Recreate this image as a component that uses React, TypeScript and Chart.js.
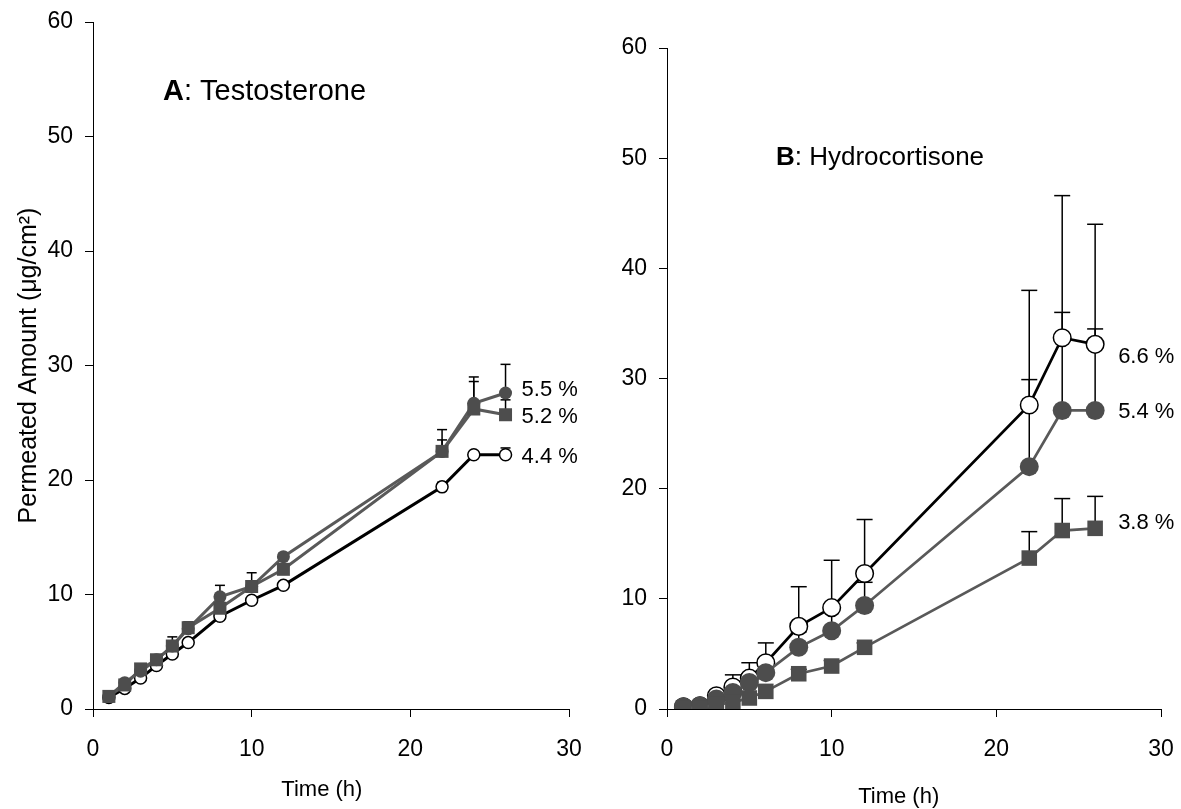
import React, { useEffect, useRef } from 'react';
import { Chart, registerables } from 'chart.js';

Chart.register(...registerables);

// ---------- data ----------
const timeH = [1, 2, 3, 4, 5, 6, 8, 10, 12, 22, 24, 26];

// Panel A: Testosterone
const aOpen = [1.0, 1.8, 2.7, 3.8, 4.8, 5.8, 8.1, 9.5, 10.8, 19.4, 22.2, 22.2];
const aOpenErr = [1.2, 2.0, 2.9, 4.0, 5.0, 6.0, 8.4, 9.7, 11.1, 19.8, 22.4, 22.8];
const aFilled = [1.1, 2.3, 3.3, 4.3, 5.5, 7.0, 9.8, 10.7, 13.3, 22.5, 26.7, 27.6];
const aFilledErr = [1.2, 2.4, 3.5, 4.5, 6.3, 7.6, 10.8, 11.0, 13.6, 23.5, 29.0, 30.1];
const aSquare = [1.1, 2.1, 3.5, 4.3, 5.5, 7.1, 8.8, 10.7, 12.2, 22.5, 26.2, 25.7];
const aSquareErr = [1.2, 2.2, 3.6, 4.4, 5.7, 7.2, 9.2, 11.9, 12.5, 24.4, 28.6, 27.0];

// Panel B: Hydrocortisone
const bOpen = [0.2, 0.3, 1.2, 2.0, 2.8, 4.2, 7.5, 9.2, 12.3, 27.6, 33.7, 33.1];
const bOpenErr = [0.4, 0.5, 1.5, 3.1, 4.2, 6.0, 11.1, 13.5, 17.2, 38.0, 46.6, 44.0];
const bFilled = [0.2, 0.3, 0.9, 1.5, 2.4, 3.3, 5.6, 7.1, 9.4, 22.0, 27.1, 27.1];
const bFilledErr = [0.3, 0.4, 1.2, 2.2, 3.2, 4.6, 7.0, 9.0, 11.5, 29.9, 36.0, 34.5];
const bSquare = [0.1, 0.1, 0.4, 0.6, 1.0, 1.6, 3.2, 3.9, 5.6, 13.7, 16.2, 16.4];
const bSquareErr = [0.2, 0.2, 0.5, 0.8, 1.3, 2.0, 3.6, 4.4, 6.0, 16.1, 19.1, 19.3];

// end-of-curve labels (text and the value level where they sit)
const aLabels = ['5.5 %', '5.2 %', '4.4 %'];
const aLabelY = [27.9, 25.5, 22.0];
const bLabels = ['6.6 %', '5.4 %', '3.8 %'];
const bLabelY = [32.0, 27.0, 16.9];

const xMin = 0;
const xMax = 30;
const xStep = 10;
const yMin = 0;
const yMax = 60;
const yStep = 10;

const yTitle = 'Permeated Amount (μg/cm²)';
const xTitle = 'Time (h)';

const FONT = '"Liberation Sans", Arial, Helvetica, sans-serif';
const DARK = '#4d4d4d';
const LINE_GRAY = '#595959';

type PanelCfg = {
  letter: string;
  name: string;
  titlePos: [number, number];
  titleSize: number;
  labels: string[];
  labelY: number[];
  labelDx: number;
  capHalf: number;
};

function makeOverlay(cfg: PanelCfg) {
  return {
    id: 'overlay' + cfg.letter,
    beforeDatasetsDraw(chart: any) {
      const { ctx } = chart;
      const xs = chart.scales.x;
      const ys = chart.scales.y;
      ctx.save();
      ctx.strokeStyle = '#000';
      ctx.lineWidth = 1.5;
      chart.data.datasets.forEach((ds: any) => {
        const vals: number[] = ds.values || [];
        const errs: number[] = ds.errTop || [];
        vals.forEach((v: number, j: number) => {
          const e = errs[j];
          if (e === undefined || e <= v) return;
          const x = xs.getPixelForValue(timeH[j]);
          const y0 = ys.getPixelForValue(v);
          const y1 = ys.getPixelForValue(e);
          ctx.beginPath();
          ctx.moveTo(x, y0);
          ctx.lineTo(x, y1);
          ctx.stroke();
          ctx.beginPath();
          ctx.moveTo(x - cfg.capHalf, y1);
          ctx.lineTo(x + cfg.capHalf, y1);
          ctx.stroke();
        });
      });
      ctx.restore();
    },
    afterDraw(chart: any) {
      const { ctx } = chart;
      const xs = chart.scales.x;
      const ys = chart.scales.y;
      ctx.save();
      ctx.fillStyle = '#000';
      ctx.textBaseline = 'middle';
      ctx.textAlign = 'left';
      // panel title
      const [tx, ty] = cfg.titlePos;
      ctx.font = `bold ${cfg.titleSize}px ${FONT}`;
      ctx.fillText(cfg.letter, tx, ty);
      const w = ctx.measureText(cfg.letter).width;
      ctx.font = `${cfg.titleSize}px ${FONT}`;
      ctx.fillText(': ' + cfg.name, tx + w, ty);
      // end labels
      ctx.font = `22px ${FONT}`;
      const lx = xs.getPixelForValue(timeH[timeH.length - 1]) + cfg.labelDx;
      cfg.labels.forEach((t, i) => {
        ctx.fillText(t, lx, ys.getPixelForValue(cfg.labelY[i]));
      });
      ctx.restore();
    },
  };
}

function buildOptions(opts: {
  yWidth: number;
  xHeight: number;
  padTop: number;
  padRight: number;
  showYTitle: boolean;
  xTitleText: string;
  xTitlePadBottom: number;
}) {
  const tickFont = { family: FONT, size: 23 };
  return {
    responsive: false,
    animation: false as const,
    events: [],
    layout: { padding: { top: opts.padTop, right: opts.padRight, bottom: 0, left: 0 } },
    plugins: { legend: { display: false }, tooltip: { enabled: false }, title: { display: false } },
    scales: {
      x: {
        type: 'linear' as const,
        min: xMin,
        max: xMax,
        ticks: { stepSize: xStep, color: '#000', font: tickFont, padding: 19, maxRotation: 0 },
        grid: { drawOnChartArea: false, drawTicks: true, tickLength: 8, color: '#000', lineWidth: 1 },
        border: { display: true, color: '#000', width: 1 },
        title: {
          display: true,
          text: opts.xTitleText,
          color: '#000',
          font: { family: FONT, size: 22, lineHeight: 1 },
          padding: { top: 0, bottom: opts.xTitlePadBottom },
        },
        afterFit(scale: any) {
          scale.height = opts.xHeight;
          scale.paddingLeft = 0;
          scale.paddingRight = 0;
        },
      },
      y: {
        type: 'linear' as const,
        min: yMin,
        max: yMax,
        ticks: { stepSize: yStep, color: '#000', font: tickFont, padding: 12 },
        grid: { drawOnChartArea: false, drawTicks: true, tickLength: 8, color: '#000', lineWidth: 1 },
        border: { display: true, color: '#000', width: 1 },
        title: {
          display: opts.showYTitle,
          text: yTitle,
          color: '#000',
          font: { family: FONT, size: 25, lineHeight: 1.2 },
          padding: { top: 14, bottom: 0 },
        },
        afterFit(scale: any) {
          scale.width = opts.yWidth;
          scale.paddingTop = 0;
          scale.paddingBottom = 0;
        },
      },
    },
  };
}

function series(
  values: number[],
  errs: number[],
  style: 'square' | 'filled' | 'open',
  big: boolean,
) {
  const pts = timeH.map((t, i) => ({ x: t, y: values[i] }));
  const base: any = {
    data: pts,
    values,
    errTop: errs,
    showLine: true,
    tension: 0,
    borderWidth: big ? 2.7 : 3,
  };
  if (style === 'square') {
    return {
      ...base,
      borderColor: LINE_GRAY,
      pointStyle: 'rect',
      pointRadius: big ? 11 : 9.2,
      pointBackgroundColor: DARK,
      pointBorderColor: DARK,
      pointBorderWidth: 0,
    };
  }
  if (style === 'filled') {
    return {
      ...base,
      borderColor: LINE_GRAY,
      pointStyle: 'circle',
      pointRadius: big ? 9.5 : 6.5,
      pointBackgroundColor: DARK,
      pointBorderColor: DARK,
      pointBorderWidth: 0,
    };
  }
  return {
    ...base,
    borderColor: '#000',
    pointStyle: 'circle',
    pointRadius: big ? 8.8 : 6,
    pointBackgroundColor: '#fff',
    pointBorderColor: '#000',
    pointBorderWidth: 1.5,
  };
}

export default function App() {
  const refA = useRef<HTMLCanvasElement>(null);
  const refB = useRef<HTMLCanvasElement>(null);

  useEffect(() => {
    const chartA = new Chart(refA.current as HTMLCanvasElement, {
      type: 'scatter',
      data: {
        datasets: [
          series(aSquare, aSquareErr, 'square', false),
          series(aFilled, aFilledErr, 'filled', false),
          series(aOpen, aOpenErr, 'open', false),
        ] as any,
      },
      options: buildOptions({
        yWidth: 93,
        xHeight: 100,
        padTop: 22,
        padRight: 31,
        showYTitle: true,
        xTitleText: xTitle + '   ',
        xTitlePadBottom: 8,
      }) as any,
      plugins: [
        makeOverlay({
          letter: 'A',
          name: 'Testosterone',
          titlePos: [163, 92],
          titleSize: 29,
          labels: aLabels,
          labelY: aLabelY,
          labelDx: 16,
          capHalf: 5,
        }),
      ],
    });

    const chartB = new Chart(refB.current as HTMLCanvasElement, {
      type: 'scatter',
      data: {
        datasets: [
          series(bSquare, bSquareErr, 'square', true),
          series(bFilled, bFilledErr, 'filled', true),
          series(bOpen, bOpenErr, 'open', true),
        ] as any,
      },
      options: buildOptions({
        yWidth: 67,
        xHeight: 100,
        padTop: 48,
        padRight: 20,
        showYTitle: false,
        xTitleText: xTitle + '     ',
        xTitlePadBottom: 1,
      }) as any,
      plugins: [
        makeOverlay({
          letter: 'B',
          name: 'Hydrocortisone',
          titlePos: [176, 158],
          titleSize: 26,
          labels: bLabels,
          labelY: bLabelY,
          labelDx: 23,
          capHalf: 8,
        }),
      ],
    });

    return () => {
      chartA.destroy();
      chartB.destroy();
    };
  }, []);

  return (
    <div
      style={{
        position: 'absolute',
        left: 0,
        top: 0,
        width: 1181,
        height: 809,
        background: '#fff',
        overflow: 'hidden',
      }}
    >
      <canvas
        ref={refA}
        width={600}
        height={809}
        style={{ position: 'absolute', left: 0, top: 0, width: 600, height: 809 }}
      />
      <canvas
        ref={refB}
        width={581}
        height={809}
        style={{ position: 'absolute', left: 600, top: 0, width: 581, height: 809 }}
      />
    </div>
  );
}
